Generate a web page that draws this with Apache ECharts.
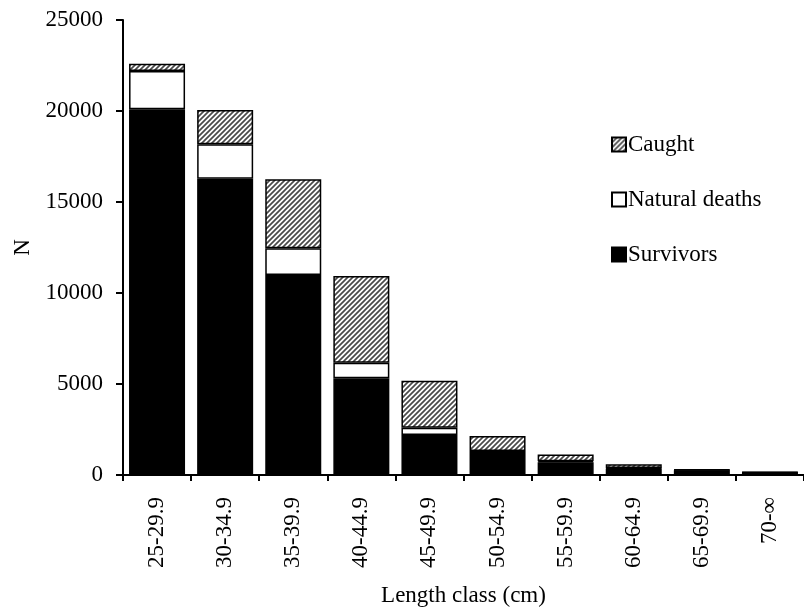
<!DOCTYPE html>
<html>
<head>
<meta charset="utf-8">
<script src="https://cdn.jsdelivr.net/npm/echarts@6/dist/echarts.min.js"></script>
<style>html,body{margin:0;padding:0;background:#fff;}#c{width:804px;height:613px;}</style>
</head>
<body>
<div id="c"></div>
<script>
const categories = ['25-29.9','30-34.9','35-39.9','40-44.9','45-49.9','50-54.9','55-59.9','60-64.9','65-69.9','70-∞'];
const survivors = [20100, 16280, 10990, 5310, 2200, 1150, 700, 360, 260, 130];
const naturalDeaths = [2100, 1890, 1465, 860, 400, 170, 60, 30, 20, 10];
const caught = [400, 1880, 3795, 4760, 2580, 820, 360, 200, 30, 20];
const yTicks = [0, 5000, 10000, 15000, 20000, 25000];

function hatch(){
  const s = 5;
  const cv = document.createElement('canvas');
  cv.width = s; cv.height = s;
  const g = cv.getContext('2d');
  g.fillStyle = '#fff'; g.fillRect(0,0,s,s);
  g.strokeStyle = '#4a4a4a'; g.lineWidth = 1.7;
  g.beginPath();
  g.moveTo(-1, s+1); g.lineTo(s+1, -1);
  g.moveTo(-1, 1); g.lineTo(1, -1);
  g.moveTo(s-1, s+1); g.lineTo(s+1, s-1);
  g.stroke();
  return {image: cv, repeat: 'repeat'};
}
const font = "'Liberation Serif','Times New Roman',serif";
const fs = 23;
const chart = echarts.init(document.getElementById('c'), null, {renderer:'canvas'});
const border = {borderColor:'#000', borderWidth:1.5};
chart.setOption({
  animation:false,
  backgroundColor:'#fff',
  textStyle:{fontFamily:font, color:'#000'},
  grid:{left:123, top:20, width:690, height:455},
  legend:{
    orient:'vertical', left:606, top:128,
    itemWidth:14, itemHeight:14, itemGap:32,
    icon:'rect',
    data:['Caught','Natural deaths','Survivors'],
    textStyle:{fontFamily:font, fontSize:fs, color:'#000', padding:[0,0,0,-3]}
  },
  xAxis:{
    type:'category', data:categories,
    name:'Length class (cm)', nameLocation:'middle', nameGap:109,
    nameTextStyle:{fontFamily:font, fontSize:fs, color:'#000'},
    axisLine:{lineStyle:{color:'#000', width:2}},
    axisTick:{show:true, length:6, lineStyle:{color:'#000', width:2}},
    axisLabel:{rotate:90, margin:22, fontFamily:font, fontSize:fs, color:'#000'}
  },
  yAxis:{
    type:'value', min:yTicks[0], max:yTicks[yTicks.length-1], interval:yTicks[1]-yTicks[0],
    name:'N', nameLocation:'middle', nameGap:88,
    nameTextStyle:{fontFamily:font, fontSize:fs, color:'#000'},
    axisLine:{show:true, lineStyle:{color:'#000', width:2}},
    axisTick:{show:true, length:7, lineStyle:{color:'#000', width:2}},
    splitLine:{show:false},
    axisLabel:{margin:20, fontFamily:font, fontSize:fs, color:'#000', formatter: v => String(v)}
  },
  series:[
    {name:'Survivors', type:'bar', stack:'t', data:survivors, barWidth:56,
     itemStyle:Object.assign({color:'#000'}, border)},
    {name:'Natural deaths', type:'bar', stack:'t', data:naturalDeaths, barWidth:56,
     itemStyle:Object.assign({color:'#fff'}, border)},
    {name:'Caught', type:'bar', stack:'t', data:caught, barWidth:56,
     itemStyle:Object.assign({color:hatch()}, border)}
  ]
});
</script>
</body>
</html>
